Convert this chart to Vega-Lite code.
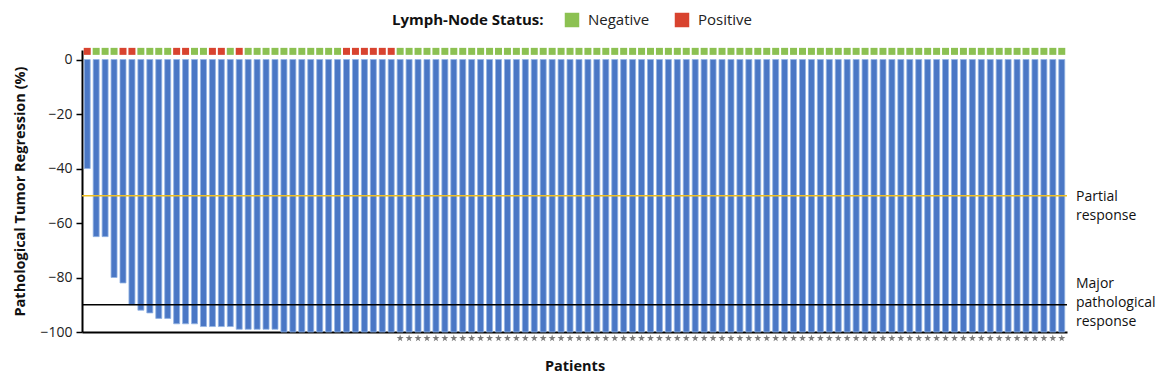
{
  "$schema": "https://vega.github.io/schema/vega-lite/v6.json",
  "width": 985,
  "height": 282,
  "padding": {"left": 12, "top": 12, "right": 5, "bottom": 5},
  "background": "white",
  "config": {
    "font": "Open Sans",
    "view": {"stroke": null},
    "axis": {"labelFont": "Open Sans", "titleFont": "Open Sans", "labelColor": "#222", "titleColor": "#111", "grid": false}
  },
  "datasets": {
    "patients": [
      {"p":1,"v":-40,"n":"Positive","s":0},
      {"p":2,"v":-65,"n":"Negative","s":0},
      {"p":3,"v":-65,"n":"Negative","s":0},
      {"p":4,"v":-80,"n":"Negative","s":0},
      {"p":5,"v":-82,"n":"Positive","s":0},
      {"p":6,"v":-90,"n":"Positive","s":0},
      {"p":7,"v":-92,"n":"Negative","s":0},
      {"p":8,"v":-93,"n":"Negative","s":0},
      {"p":9,"v":-95,"n":"Negative","s":0},
      {"p":10,"v":-95,"n":"Negative","s":0},
      {"p":11,"v":-97,"n":"Positive","s":0},
      {"p":12,"v":-97,"n":"Positive","s":0},
      {"p":13,"v":-97,"n":"Negative","s":0},
      {"p":14,"v":-98,"n":"Negative","s":0},
      {"p":15,"v":-98,"n":"Positive","s":0},
      {"p":16,"v":-98,"n":"Positive","s":0},
      {"p":17,"v":-98,"n":"Negative","s":0},
      {"p":18,"v":-99,"n":"Positive","s":0},
      {"p":19,"v":-99,"n":"Negative","s":0},
      {"p":20,"v":-99,"n":"Negative","s":0},
      {"p":21,"v":-99,"n":"Negative","s":0},
      {"p":22,"v":-99,"n":"Negative","s":0},
      {"p":23,"v":-100,"n":"Negative","s":0},
      {"p":24,"v":-100,"n":"Negative","s":0},
      {"p":25,"v":-100,"n":"Negative","s":0},
      {"p":26,"v":-100,"n":"Negative","s":0},
      {"p":27,"v":-100,"n":"Negative","s":0},
      {"p":28,"v":-100,"n":"Negative","s":0},
      {"p":29,"v":-100,"n":"Negative","s":0},
      {"p":30,"v":-100,"n":"Positive","s":0},
      {"p":31,"v":-100,"n":"Positive","s":0},
      {"p":32,"v":-100,"n":"Positive","s":0},
      {"p":33,"v":-100,"n":"Positive","s":0},
      {"p":34,"v":-100,"n":"Positive","s":0},
      {"p":35,"v":-100,"n":"Positive","s":0},
      {"p":36,"v":-100,"n":"Negative","s":1},
      {"p":37,"v":-100,"n":"Negative","s":1},
      {"p":38,"v":-100,"n":"Negative","s":1},
      {"p":39,"v":-100,"n":"Negative","s":1},
      {"p":40,"v":-100,"n":"Negative","s":1},
      {"p":41,"v":-100,"n":"Negative","s":1},
      {"p":42,"v":-100,"n":"Negative","s":1},
      {"p":43,"v":-100,"n":"Negative","s":1},
      {"p":44,"v":-100,"n":"Negative","s":1},
      {"p":45,"v":-100,"n":"Negative","s":1},
      {"p":46,"v":-100,"n":"Negative","s":1},
      {"p":47,"v":-100,"n":"Negative","s":1},
      {"p":48,"v":-100,"n":"Negative","s":1},
      {"p":49,"v":-100,"n":"Negative","s":1},
      {"p":50,"v":-100,"n":"Negative","s":1},
      {"p":51,"v":-100,"n":"Negative","s":1},
      {"p":52,"v":-100,"n":"Negative","s":1},
      {"p":53,"v":-100,"n":"Negative","s":1},
      {"p":54,"v":-100,"n":"Negative","s":1},
      {"p":55,"v":-100,"n":"Negative","s":1},
      {"p":56,"v":-100,"n":"Negative","s":1},
      {"p":57,"v":-100,"n":"Negative","s":1},
      {"p":58,"v":-100,"n":"Negative","s":1},
      {"p":59,"v":-100,"n":"Negative","s":1},
      {"p":60,"v":-100,"n":"Negative","s":1},
      {"p":61,"v":-100,"n":"Negative","s":1},
      {"p":62,"v":-100,"n":"Negative","s":1},
      {"p":63,"v":-100,"n":"Negative","s":1},
      {"p":64,"v":-100,"n":"Negative","s":1},
      {"p":65,"v":-100,"n":"Negative","s":1},
      {"p":66,"v":-100,"n":"Negative","s":1},
      {"p":67,"v":-100,"n":"Negative","s":1},
      {"p":68,"v":-100,"n":"Negative","s":1},
      {"p":69,"v":-100,"n":"Negative","s":1},
      {"p":70,"v":-100,"n":"Negative","s":1},
      {"p":71,"v":-100,"n":"Negative","s":1},
      {"p":72,"v":-100,"n":"Negative","s":1},
      {"p":73,"v":-100,"n":"Negative","s":1},
      {"p":74,"v":-100,"n":"Negative","s":1},
      {"p":75,"v":-100,"n":"Negative","s":1},
      {"p":76,"v":-100,"n":"Negative","s":1},
      {"p":77,"v":-100,"n":"Negative","s":1},
      {"p":78,"v":-100,"n":"Negative","s":1},
      {"p":79,"v":-100,"n":"Negative","s":1},
      {"p":80,"v":-100,"n":"Negative","s":1},
      {"p":81,"v":-100,"n":"Negative","s":1},
      {"p":82,"v":-100,"n":"Negative","s":1},
      {"p":83,"v":-100,"n":"Negative","s":1},
      {"p":84,"v":-100,"n":"Negative","s":1},
      {"p":85,"v":-100,"n":"Negative","s":1},
      {"p":86,"v":-100,"n":"Negative","s":1},
      {"p":87,"v":-100,"n":"Negative","s":1},
      {"p":88,"v":-100,"n":"Negative","s":1},
      {"p":89,"v":-100,"n":"Negative","s":1},
      {"p":90,"v":-100,"n":"Negative","s":1},
      {"p":91,"v":-100,"n":"Negative","s":1},
      {"p":92,"v":-100,"n":"Negative","s":1},
      {"p":93,"v":-100,"n":"Negative","s":1},
      {"p":94,"v":-100,"n":"Negative","s":1},
      {"p":95,"v":-100,"n":"Negative","s":1},
      {"p":96,"v":-100,"n":"Negative","s":1},
      {"p":97,"v":-100,"n":"Negative","s":1},
      {"p":98,"v":-100,"n":"Negative","s":1},
      {"p":99,"v":-100,"n":"Negative","s":1},
      {"p":100,"v":-100,"n":"Negative","s":1},
      {"p":101,"v":-100,"n":"Negative","s":1},
      {"p":102,"v":-100,"n":"Negative","s":1},
      {"p":103,"v":-100,"n":"Negative","s":1},
      {"p":104,"v":-100,"n":"Negative","s":1},
      {"p":105,"v":-100,"n":"Negative","s":1},
      {"p":106,"v":-100,"n":"Negative","s":1},
      {"p":107,"v":-100,"n":"Negative","s":1},
      {"p":108,"v":-100,"n":"Negative","s":1},
      {"p":109,"v":-100,"n":"Negative","s":1},
      {"p":110,"v":-100,"n":"Negative","s":1}
    ]
  },
  "layer": [
    {
      "data": {"name": "patients"},
      "mark": {"type": "bar", "color": "#4a77c5", "stroke": "#93b4e3", "strokeWidth": 0.8},
      "encoding": {
        "x": {
          "field": "p", "type": "ordinal",
          "scale": {"paddingInner": 0.33, "paddingOuter": 0.25},
          "axis": {"title": "Patients", "labels": false, "ticks": false, "domainColor": "#000", "domainWidth": 2, "titleFontSize": 14.5, "titleFontWeight": "bold", "titlePadding": 27}
        },
        "y": {
          "field": "v", "type": "quantitative",
          "scale": {"domain": [-100, 3.5], "nice": false, "zero": false},
          "axis": {"title": "Pathological Tumor Regression (%)", "values": [0, -20, -40, -60, -80, -100], "labelFontSize": 14, "titleFontSize": 14.5, "titleFontWeight": "bold", "titlePadding": 12, "domainColor": "#000", "domainWidth": 2, "tickColor": "#000", "tickWidth": 1.5, "tickSize": 6, "labelPadding": 4}
        }
      }
    },
    {
      "data": {"values": [{"r": -50}]},
      "mark": {"type": "rule", "color": "#f0c020", "strokeWidth": 1.6},
      "encoding": {"y": {"field": "r", "type": "quantitative"}}
    },
    {
      "data": {"values": [{"r": -90}]},
      "mark": {"type": "rule", "color": "#000", "strokeWidth": 1.6},
      "encoding": {"y": {"field": "r", "type": "quantitative"}}
    },
    {
      "data": {"name": "patients"},
      "mark": {"type": "square", "size": 49, "opacity": 1, "clip": false},
      "encoding": {
        "x": {"field": "p", "type": "ordinal"},
        "y": {"datum": 3, "type": "quantitative"},
        "color": {
          "field": "n", "type": "nominal",
          "scale": {"domain": ["Negative", "Positive"], "range": ["#8cc152", "#d8432f"]},
          "legend": {"title": "Lymph-Node Status:", "orient": "none", "legendX": 310, "legendY": -38, "direction": "horizontal", "titleOrient": "left", "titleFontSize": 15, "titleFontWeight": "bold", "titleColor": "#111", "titlePadding": 20, "labelFontSize": 15, "labelColor": "#222", "labelOffset": 8, "columnPadding": 24, "symbolSize": 210}
        }
      }
    },
    {
      "data": {"name": "patients"},
      "transform": [{"filter": {"field": "s", "equal": 1}}],
      "mark": {"type": "point", "shape": "M0,-1L0.2245,-0.309L0.951,-0.309L0.363,0.118L0.588,0.809L0,0.382L-0.588,0.809L-0.363,0.118L-0.951,-0.309L-0.2245,-0.309Z", "filled": true, "size": 55, "color": "#7a7a7a", "opacity": 1, "clip": false},
      "encoding": {
        "x": {"field": "p", "type": "ordinal"},
        "y": {"datum": -102.3, "type": "quantitative"}
      }
    },
    {
      "data": {"values": [{"r": -50, "t": "Partial\nresponse"}]},
      "mark": {"type": "text", "lineBreak": "\n", "align": "left", "baseline": "top", "dx": 9, "dy": -6, "fontSize": 14, "lineHeight": 19, "color": "#111"},
      "encoding": {"x": {"value": "width"}, "y": {"field": "r", "type": "quantitative"}, "text": {"field": "t"}}
    },
    {
      "data": {"values": [{"r": -90, "t": "Major\npathological\nresponse"}]},
      "mark": {"type": "text", "lineBreak": "\n", "align": "left", "baseline": "middle", "dx": 9, "dy": -21, "fontSize": 14, "lineHeight": 19, "color": "#111"},
      "encoding": {"x": {"value": "width"}, "y": {"field": "r", "type": "quantitative"}, "text": {"field": "t"}}
    }
  ]
}
